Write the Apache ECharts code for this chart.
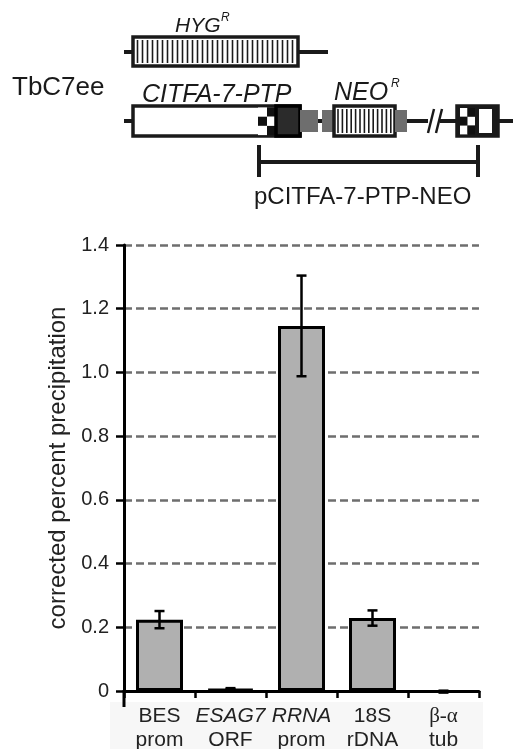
<!doctype html>
<html>
<head>
<meta charset="UTF-8">
<title>CITFA-7 ChIP</title>
<script src="https://cdn.jsdelivr.net/npm/echarts@6/dist/echarts.min.js"></script>
<style>
  html, body { margin: 0; padding: 0; background: #fff; }
  #main { width: 513px; height: 749px; }
</style>
</head>
<body>
<div id="main"></div>
<script type="text/javascript">
// data
var categories = ['BES prom', 'ESAG7 ORF', 'RRNA prom', '18S rDNA', 'β-α tub'];
var italicNames = ['ESAG7', 'RRNA'];
var values = [0.224, 0.007, 1.146, 0.229, -0.002];
var errors = [0.027, 0.002, 0.158, 0.024, 0.003];
var yTicks = [0, 0.2, 0.4, 0.6, 0.8, 1.0, 1.2, 1.4];

var FONT = '"Liberation Sans", Arial, sans-serif';

// ---- gene diagram on top (drawn with graphic elements) ----
var diagram = [];
function line(x1, y1, x2, y2, w) {
    diagram.push({ type: 'line', shape: { x1: x1, y1: y1, x2: x2, y2: y2 },
        style: { stroke: '#1a1a1a', lineWidth: w || 4 } });
}
function box(x, y, w, h, fill, stroke, lw) {
    diagram.push({ type: 'rect', shape: { x: x, y: y, width: w, height: h },
        style: { fill: fill, stroke: stroke || null, lineWidth: lw || 0 } });
}
function stripes(x1, x2, y1, y2, step) {
    for (var x = x1; x <= x2; x += step) line(x, y1, x, y2, 1.6);
}
function checker(x, y, cw, ch) {
    for (var r = 0; r < 3; r++) {
        for (var c = 0; c < 2; c++) {
            box(x + c * cw, y + r * ch, cw, ch, (r + c) % 2 ? '#111' : '#fff');
        }
    }
}
function label(text, x, y, size, italic) {
    diagram.push({ type: 'text', x: x, y: y,
        style: { text: text, fill: '#1a1a1a', fontSize: size, fontFamily: FONT,
            fontStyle: italic ? 'italic' : 'normal', align: 'left', verticalAlign: 'middle' } });
}

// HYG row
line(124, 52, 135, 52);
line(296, 52, 328, 52);
box(133, 37, 165, 29, '#fff', '#1a1a1a', 3.5);
stripes(137.5, 294, 40, 63, 5);
label('HYG', 175, 26, 21, true);
label('R', 221, 18, 12, true);

// CITFA-7-PTP row
line(124, 121, 135, 121);
box(133, 106, 167, 30, '#fff', '#1a1a1a', 3.5);
checker(258, 107.5, 9, 9.2);
box(276, 106, 24, 30, '#2b2b2b', '#000', 3.5);
box(300, 110, 18, 22, '#6e6e6e');
line(318, 121, 323, 121);
box(322, 110, 12, 22, '#6e6e6e');
box(334, 106, 61, 30, '#fff', '#1a1a1a', 3.5);
stripes(338, 391, 109, 133, 4.4);
box(395, 110, 12, 22, '#6e6e6e');
line(407, 121, 428, 121);
line(428, 133, 434, 109, 2.5);
line(436, 133, 442, 109, 2.5);
line(440, 121, 458, 121);
box(457, 106, 41, 30, '#1a1a1a', '#1a1a1a', 3.5);
checker(460, 108, 7.5, 8.8);
box(479, 109, 13, 24, '#fff');
line(498, 121, 513, 121);

label('TbC7ee', 12, 88, 26, false);
label('CITFA-7-PTP', 142, 95, 25, true);
label('NEO', 334, 93, 25, true);
label('R', 391, 84, 12, true);

// bracket
line(259, 145, 259, 177);
line(259, 162, 478, 162);
line(478, 145, 478, 177);
label('pCITFA-7-PTP-NEO', 254, 197, 24, false);

// faint band behind category labels and y-axis extension below zero
diagram.unshift({ type: 'rect', z: -10, shape: { x: 110, y: 702, width: 373, height: 47 },
    style: { fill: '#f7f7f7' } });
diagram.push({ type: 'line', shape: { x1: 124, y1: 690, x2: 124, y2: 707 },
    style: { stroke: '#000', lineWidth: 3 } });

var myChart = echarts.init(document.getElementById('main'), null, { renderer: 'canvas' });

var option = {
    backgroundColor: '#fff',
    animation: false,
    textStyle: { fontFamily: FONT },
    grid: { left: 124, right: 34, top: 245, bottom: 58, containLabel: false, outerBoundsMode: 'none' },
    graphic: diagram,
    xAxis: {
        type: 'category',
        data: categories,
        axisLine: { lineStyle: { color: '#000', width: 3 } },
        axisTick: { show: true, length: 7, lineStyle: { color: '#000', width: 2.5 } },
        axisLabel: {
            interval: 0,
            margin: 13,
            color: '#222',
            lineHeight: 24,
            formatter: function (v) {
                var parts = v.split(' ');
                var st = italicNames.indexOf(parts[0]) >= 0 ? 'it' : (parts[0] === 'β-α' ? 'gr' : 'n');
                return '{' + st + '|' + parts[0] + '}\n{n|' + parts[1] + '}';
            },
            rich: {
                n: { fontSize: 21, fontFamily: FONT, color: '#222', lineHeight: 24 },
                it: { fontSize: 21, fontFamily: FONT, fontStyle: 'italic', color: '#222', lineHeight: 24 },
                gr: { fontSize: 21, fontFamily: '"Liberation Serif", serif', color: '#222', lineHeight: 24 }
            }
        },
        splitLine: { show: false }
    },
    yAxis: {
        type: 'value',
        min: yTicks[0],
        max: yTicks[yTicks.length - 1],
        interval: 0.2,
        name: 'corrected percent precipitation',
        nameLocation: 'middle',
        nameRotate: 90,
        nameGap: 46,
        nameTextStyle: { fontSize: 24, color: '#222', fontFamily: FONT },
        axisLine: { show: true, lineStyle: { color: '#000', width: 3 } },
        axisTick: { show: true, length: 8, lineStyle: { color: '#000', width: 2.5 } },
        axisLabel: {
            margin: 15,
            fontSize: 20,
            color: '#222',
            formatter: function (v) { return v === 0 ? '0' : v.toFixed(1); }
        },
        splitLine: { show: true, lineStyle: { color: '#6e6e6e', width: 2.5, type: [8, 4] } }
    },
    series: [
        {
            name: 'precipitation',
            type: 'bar',
            data: values,
            barWidth: 47,
            itemStyle: { color: '#b0b0b0', borderColor: '#000', borderWidth: 3 },
            z: 3
        },
        {
            name: 'error',
            type: 'custom',
            z: 4,
            data: values.map(function (v, i) { return [i, v - errors[i], v + errors[i]]; }),
            renderItem: function (params, api) {
                var lo = api.coord([api.value(0), api.value(1)]);
                var hi = api.coord([api.value(0), api.value(2)]);
                var cap = 5;
                var st = { stroke: '#000', lineWidth: 2.5 };
                return {
                    type: 'group',
                    children: [
                        { type: 'line', shape: { x1: hi[0], y1: hi[1], x2: lo[0], y2: lo[1] }, style: st },
                        { type: 'line', shape: { x1: hi[0] - cap, y1: hi[1], x2: hi[0] + cap, y2: hi[1] }, style: st },
                        { type: 'line', shape: { x1: lo[0] - cap, y1: lo[1], x2: lo[0] + cap, y2: lo[1] }, style: st }
                    ]
                };
            }
        }
    ]
};

myChart.setOption(option);
</script>
</body>
</html>
